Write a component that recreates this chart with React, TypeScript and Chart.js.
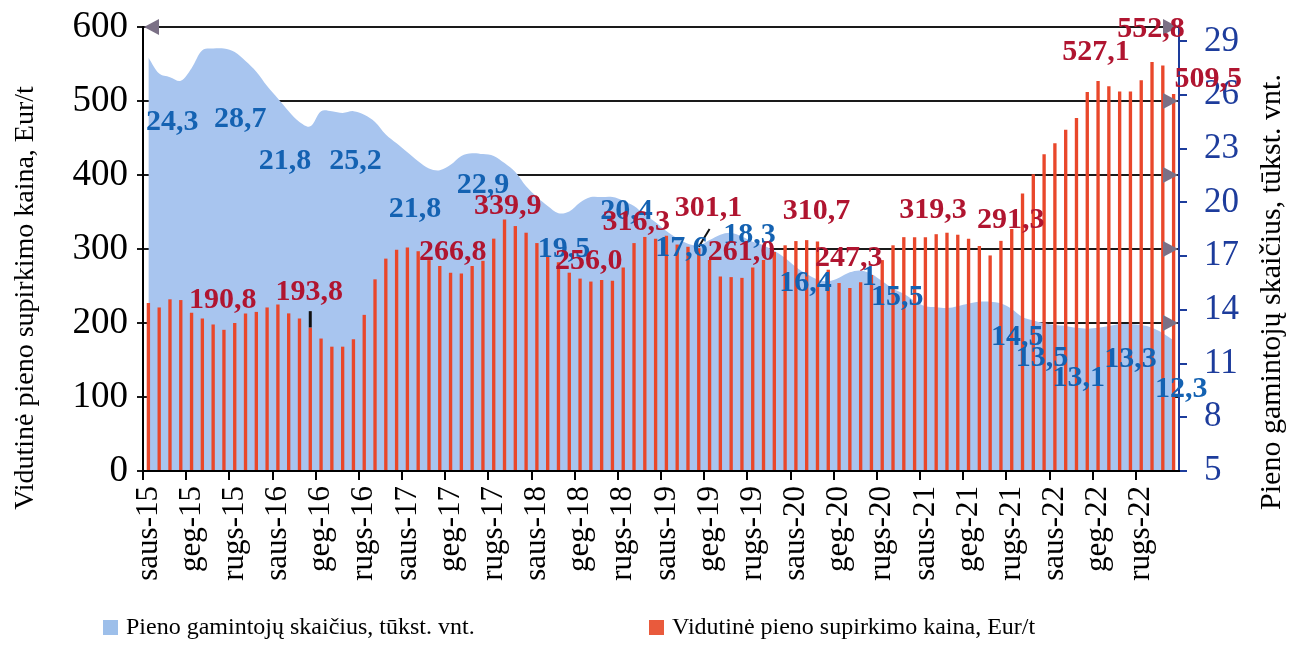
import React, { useEffect, useRef } from 'react';
import { Chart, registerables } from 'chart.js';

Chart.register(...registerables);

const SERIF = '"Liberation Serif", "Times New Roman", serif';

const monthAbbr = ['saus', 'vas', 'kov', 'bal', 'geg', 'birž', 'liep', 'rugp', 'rugs', 'spal', 'lapkr', 'gruod'];
const years = ['15', '16', '17', '18', '19', '20', '21', '22'];
const categories = years.flatMap((y) => monthAbbr.map((m) => `${m}-${y}`));

// Vidutinė pieno supirkimo kaina, Eur/t (left axis)
const milkPrice = [
  227, 221, 232, 231, 214, 206, 198, 190.8, 200, 213, 215, 221,
  225, 213, 206, 193.8, 179, 168, 168, 178, 211, 259, 287, 299,
  302, 297, 285, 277, 268, 266.8, 277, 284, 314, 339.9, 331, 322,
  308, 291, 282, 268, 260, 256.0, 258, 257, 275, 308, 316.3, 314,
  318, 306, 303, 301.1, 285, 263, 262, 261.0, 275, 285, 296, 305,
  310.7, 312, 310, 272, 254, 247.3, 255, 265, 285, 305, 316, 316,
  316, 320, 322, 319.3, 314, 304, 291.3, 311, 327, 375, 401, 428,
  443, 461, 477, 512, 527.1, 520, 513, 513, 528, 552.8, 548, 509.5,
];

// Pieno gamintojų skaičius, tūkst. vnt. (right axis)
const producers = [
  28.1, 27.2, 27.0, 26.8, 27.5, 28.5, 28.6, 28.6, 28.4, 27.9, 27.3, 26.5,
  25.8, 25.1, 24.5, 24.25, 25.1, 25.1, 25.0, 25.1, 24.9, 24.5, 23.8, 23.3,
  22.8, 22.3, 21.9, 21.8, 22.1, 22.6, 22.75, 22.7, 22.6, 22.2, 21.7, 20.9,
  20.3, 19.8, 19.4, 19.5, 20.0, 20.3, 20.3, 20.3, 20.1, 19.8, 19.3, 18.9,
  18.4, 18.0, 17.7, 17.6, 17.9, 18.2, 18.3, 18.1, 17.8, 17.6, 17.3, 16.9,
  16.4, 16.0, 15.7, 15.6, 15.8, 16.1, 16.2, 16.0, 15.6, 15.2, 14.9, 14.5,
  14.2, 14.15, 14.1, 14.2, 14.35, 14.45, 14.45, 14.35, 14.05, 13.6, 13.4, 13.25,
  13.15, 13.1, 13.0, 12.95, 13.0, 13.1, 13.2, 13.2, 13.15, 13.0, 12.7, 12.3,
];

const leftMin = 0;
const leftMax = 600;
const leftStep = 100;
const rightMin = 5;
const rightMax = 29.8;
const rightTicks = [5, 8, 11, 14, 17, 20, 23, 26, 29];
const arrowLevels = [200, 300, 400, 500, 600];

// annotation texts: [text, category index, left-axis value]
const blueLabels: [string, number, number][] = [
  ['24,3', 2.2, 471], ['28,7', 8.5, 476], ['21,8', 12.65, 418], ['25,2', 19.2, 418],
  ['21,8', 24.7, 354], ['22,9', 31.0, 386], ['19,5', 38.5, 300], ['20,4', 44.3, 351],
  ['17,6', 49.4, 301], ['18,3', 55.7, 319], ['16,4', 60.9, 254], ['1', 66.8, 262],
  ['15,5', 69.4, 235], ['14,5', 80.5, 181], ['13,5', 82.8, 153], ['13,1', 86.2, 126],
  ['13,3', 91.0, 151], ['12,3', 95.7, 111],
];
const redLabels: [string, number, number][] = [
  ['190,8', 6.9, 231], ['193,8', 14.9, 242], ['266,8', 28.2, 295], ['339,9', 33.3, 358],
  ['256,0', 40.8, 284], ['316,3', 45.2, 336], ['301,1', 51.9, 355], ['261,0', 54.97, 295],
  ['310,7', 61.9, 351], ['247,3', 64.9, 288], ['319,3', 72.7, 353], ['291,3', 79.9, 339],
  ['527,1', 87.8, 566], ['552,8', 92.9, 597], ['509,5', 98.2, 530],
];
// leader marks: [i1, v1, i2, v2, width]
const leaders: [number, number, number, number, number][] = [
  [15, 194, 15, 216, 3],
  [51.0, 303, 52.0, 327, 2],
];

const AREA_COLOR = '#a8c5ef';
const BAR_COLOR = '#e9472b';
const BLUE_TXT = '#1462b2';
const RED_TXT = '#b01530';
const AXIS_BLUE = '#1d3c9c';
const ARROW_COLOR = '#7b7086';

const legendItems: [string, string][] = [
  ['Pieno gamintojų skaičius, tūkst. vnt.', '#9dbfea'],
  ['Vidutinė pieno supirkimo kaina, Eur/t', '#e95a3c'],
];
const leftTitle = 'Vidutinė pieno supirkimo kaina, Eur/t';
const rightTitle = 'Pieno gamintojų skaičius, tūkst. vnt.';

const decorPlugin = {
  id: 'decor',
  afterDatasetsDraw(chart: any) {
    const { ctx, chartArea, scales } = chart;
    const x = scales.x;
    const y = scales.y;
    ctx.save();
    // arrowheads
    ctx.fillStyle = ARROW_COLOR;
    for (const v of arrowLevels) {
      const py = y.getPixelForValue(v);
      ctx.beginPath();
      ctx.moveTo(chartArea.right - 1, py);
      ctx.lineTo(chartArea.right - 16, py - 8);
      ctx.lineTo(chartArea.right - 16, py + 8);
      ctx.closePath();
      ctx.fill();
    }
    const pTop = y.getPixelForValue(leftMax);
    ctx.beginPath();
    ctx.moveTo(chartArea.left + 1, pTop);
    ctx.lineTo(chartArea.left + 16, pTop - 8);
    ctx.lineTo(chartArea.left + 16, pTop + 8);
    ctx.closePath();
    ctx.fill();
    // leader marks
    ctx.strokeStyle = '#111';
    for (const [i1, v1, i2, v2, w] of leaders) {
      ctx.lineWidth = w;
      ctx.beginPath();
      ctx.moveTo(x.getPixelForValue(i1), y.getPixelForValue(v1));
      ctx.lineTo(x.getPixelForValue(i2), y.getPixelForValue(v2));
      ctx.stroke();
    }
    // labels
    ctx.font = `bold 30px ${SERIF}`;
    ctx.textAlign = 'center';
    ctx.textBaseline = 'middle';
    ctx.fillStyle = BLUE_TXT;
    for (const [t, i, v] of blueLabels) ctx.fillText(t, x.getPixelForValue(i), y.getPixelForValue(v));
    ctx.fillStyle = RED_TXT;
    for (const [t, i, v] of redLabels) ctx.fillText(t, x.getPixelForValue(i), y.getPixelForValue(v));
    ctx.restore();
  },
  afterDraw(chart: any) {
    const { ctx, chartArea } = chart;
    ctx.save();
    ctx.fillStyle = '#000';
    ctx.textAlign = 'center';
    ctx.textBaseline = 'middle';
    // left title
    ctx.font = `28px ${SERIF}`;
    ctx.save();
    ctx.translate(26, chartArea.bottom - 173);
    ctx.rotate(-Math.PI / 2);
    ctx.fillText(leftTitle, 0, 0);
    ctx.restore();
    // right title
    ctx.font = `30px ${SERIF}`;
    ctx.save();
    ctx.translate(1272, chartArea.bottom - 179);
    ctx.rotate(-Math.PI / 2);
    ctx.fillText(rightTitle, 0, 0);
    ctx.restore();
    // legend
    ctx.font = `24px ${SERIF}`;
    ctx.textAlign = 'left';
    const lx = [103, 649];
    legendItems.forEach(([t, c], k) => {
      ctx.fillStyle = c;
      ctx.fillRect(lx[k], 620, 15, 15);
      ctx.fillStyle = '#000';
      ctx.fillText(t, lx[k] + 23, 628);
    });
    ctx.restore();
  },
};

const noVPad = (s: any) => { s.paddingTop = 0; s.paddingBottom = 0; };

export default function App() {
  const ref = useRef<HTMLCanvasElement>(null);
  useEffect(() => {
    if (!ref.current) return;
    const chart = new Chart(ref.current, {
      type: 'bar',
      data: {
        labels: categories,
        datasets: [
          {
            type: 'line',
            label: legendItems[0][0],
            data: producers,
            yAxisID: 'y1',
            backgroundColor: AREA_COLOR,
            borderWidth: 0,
            borderColor: AREA_COLOR,
            pointRadius: 0,
            fill: 'start',
            tension: 0.35,
            order: 1,
          } as any,
          {
            type: 'bar',
            label: legendItems[1][0],
            data: milkPrice,
            yAxisID: 'y',
            backgroundColor: BAR_COLOR,
            barPercentage: 0.31,
            categoryPercentage: 1,
            order: 0,
          },
        ],
      },
      options: {
        responsive: false,
        animation: false,
        devicePixelRatio: 1,
        layout: { padding: { top: 27, left: 0, right: 0, bottom: 0 } },
        plugins: { legend: { display: false }, tooltip: { enabled: false } },
        scales: {
          x: {
            offset: true,
            grid: {
              offset: true,
              drawOnChartArea: false,
              color: (c: any) => (c.index % 4 === 0 ? '#000' : 'rgba(0,0,0,0)'),
              tickLength: 9,
              lineWidth: 2,
            },
            border: { color: '#000', width: 2, z: 1 },
            ticks: {
              autoSkip: false,
              minRotation: 90,
              maxRotation: 90,
              padding: 6,
              color: '#000',
              font: { family: SERIF, size: 31 },
              callback: (_v: any, i: number) => (i % 4 === 0 ? categories[i] : ''),
            },
            afterFit: (s: any) => { s.height = 177; s.paddingLeft = 0; s.paddingRight = 0; },
          },
          y: {
            position: 'left',
            min: leftMin,
            max: leftMax,
            ticks: { stepSize: leftStep, color: '#000', padding: 9, font: { family: SERIF, size: 37 } },
            grid: { color: '#1a1a1a', lineWidth: 2, tickLength: 6 },
            border: { color: '#000', width: 2 },
            afterFit: (s: any) => { s.width = 143; noVPad(s); },
          },
          y1: {
            position: 'right',
            min: rightMin,
            max: rightMax,
            afterBuildTicks: (s: any) => { s.ticks = rightTicks.map((v) => ({ value: v })); },
            ticks: { color: AXIS_BLUE, padding: 17, font: { family: SERIF, size: 35 } },
            grid: { drawOnChartArea: false, color: AXIS_BLUE, lineWidth: 2, tickLength: 8 },
            border: { color: AXIS_BLUE, width: 2 },
            afterFit: (s: any) => { s.width = 120; noVPad(s); },
          },
        },
      },
      plugins: [decorPlugin],
    });
    return () => chart.destroy();
  }, []);
  return (
    <div style={{ position: 'absolute', left: 0, top: 0, width: 1299, height: 648, background: '#fff' }}>
      <canvas ref={ref} width={1299} height={648} />
    </div>
  );
}
